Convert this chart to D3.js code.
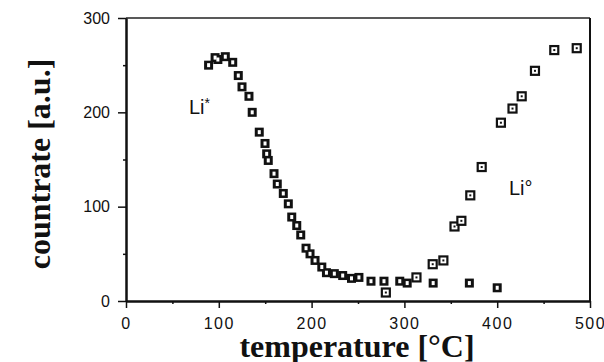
<!DOCTYPE html>
<html>
<head>
<meta charset="utf-8">
<script src="https://cdn.jsdelivr.net/npm/d3@7"></script>
<style>
  body { margin: 0; background: #fff; }
  svg { display: block; }
</style>
</head>
<body>
<svg id="chart" width="604" height="362"></svg>
<script>
// ---- data ----
const liStarTemp = [89, 96, 99, 107, 115, 121, 125, 132.5, 136, 143.6, 149.8, 151.6, 153.3, 159.5, 163, 169.5, 174.9, 178.6, 184, 188.3, 194, 198.3, 203.7, 211, 216, 224.5, 233.5, 243, 251, 264, 278, 295, 303, 331, 370, 400];
const liStarRate = [250, 258, 256, 259, 253, 239, 227, 217, 200, 179, 167, 156, 149, 135, 124, 114, 103, 89, 80, 70, 56, 50, 43, 36, 30, 29, 27, 24, 25, 21, 21, 21, 19, 19, 19, 14];
const liZeroTemp = [280, 313, 330.5, 342, 354, 361.4, 371, 383.3, 404, 416.5, 426.4, 440.7, 461.5, 485.7];
const liZeroRate = [9, 25, 39, 43, 79, 85, 112, 142, 189, 204, 217, 244, 266, 268];
const xMajorTicks = [0, 100, 200, 300, 400, 500];
const xMinorTicks = [50, 150, 250, 350, 450];
const yMajorTicks = [0, 100, 200, 300];
const yMinorTicks = [50, 150, 250];
const xTitle = "temperature [°C]";
const yTitle = "countrate [a.u.]";

const svg = d3.select("#chart");
const x = d3.scaleLinear().domain([0, 500]).range([126, 590]);
const y = d3.scaleLinear().domain([0, 300]).range([301, 18]);

// frame top & right
svg.append("line").attr("x1", x(0)).attr("x2", x(500)).attr("y1", y(300)).attr("y2", y(300))
  .attr("stroke", "#222").attr("stroke-width", 1.5);
svg.append("line").attr("x1", x(500)).attr("x2", x(500)).attr("y1", y(300)).attr("y2", y(0))
  .attr("stroke", "#111").attr("stroke-width", 2);

// axes
const tickFont = "'Liberation Sans', Arial, sans-serif";
const gx = svg.append("g").attr("transform", `translate(0,${y(0)})`)
  .call(d3.axisBottom(x).tickValues(xMajorTicks).tickSize(7).tickPadding(10).tickSizeOuter(0));
const gxm = svg.append("g").attr("transform", `translate(0,${y(0)})`)
  .call(d3.axisBottom(x).tickValues(xMinorTicks).tickSize(3).tickFormat("").tickSizeOuter(0));
const gy = svg.append("g").attr("transform", `translate(${x(0)},0)`)
  .call(d3.axisLeft(y).tickValues(yMajorTicks).tickSize(8).tickPadding(8).tickSizeOuter(0));
const gym = svg.append("g").attr("transform", `translate(${x(0)},0)`)
  .call(d3.axisLeft(y).tickValues(yMinorTicks).tickSize(3).tickFormat("").tickSizeOuter(0));

[gx, gxm, gy, gym].forEach(g => {
  g.selectAll("path.domain").attr("stroke", "#111").attr("stroke-width", 2);
  g.selectAll(".tick line").attr("stroke", "#111").attr("stroke-width", 1.5);
  g.selectAll("text").attr("fill", "#111").style("font-family", tickFont).style("font-size", "16px");
});
gx.selectAll("text").style("letter-spacing", "1.5px");

// titles
svg.append("text").attr("x", 357).attr("y", 357).attr("text-anchor", "middle")
  .style("font-family", "'Liberation Serif', 'Times New Roman', serif").style("font-weight", "bold")
  .style("font-size", "32px").attr("fill", "#111").text(xTitle);
svg.append("text").attr("transform", "translate(50,164) rotate(-90)").attr("text-anchor", "middle")
  .style("font-family", "'Liberation Serif', 'Times New Roman', serif").style("font-weight", "bold")
  .style("font-size", "32px").attr("fill", "#111").text(yTitle);

// series labels
const lab1 = svg.append("text").attr("x", 189).attr("y", 114)
  .style("font-family", tickFont).style("font-size", "20px").attr("fill", "#111");
lab1.append("tspan").text("Li");
lab1.append("tspan").attr("dy", -6).style("font-size", "14px").text("*");
svg.append("text").attr("x", 509).attr("y", 195)
  .style("font-family", tickFont).style("font-size", "20px").attr("fill", "#111").text("Li°");

// markers
const star = liStarTemp.map((t, i) => ({t, v: liStarRate[i]}));
const zero = liZeroTemp.map((t, i) => ({t, v: liZeroRate[i]}));

const gs = svg.append("g");
gs.selectAll("rect.outer").data(star).join("rect")
  .attr("x", d => x(d.t) - 4.5).attr("y", d => y(d.v) - 4.5)
  .attr("width", 9).attr("height", 9).attr("fill", "#111");
gs.selectAll("rect.inner").data(star).join("rect")
  .attr("x", d => x(d.t) - 1.5).attr("y", d => y(d.v) - 2)
  .attr("width", 3).attr("height", 4).attr("fill", "#fff");

const gz = svg.append("g");
gz.selectAll("rect.box").data(zero).join("rect")
  .attr("x", d => x(d.t) - 4).attr("y", d => y(d.v) - 4)
  .attr("width", 8).attr("height", 8).attr("fill", "#fff")
  .attr("stroke", "#111").attr("stroke-width", 2.2);
gz.selectAll("rect.dot").data(zero).join("rect")
  .attr("x", d => x(d.t) - 1).attr("y", d => y(d.v) - 1)
  .attr("width", 2).attr("height", 2).attr("fill", "#111");
</script>
</body>
</html>
